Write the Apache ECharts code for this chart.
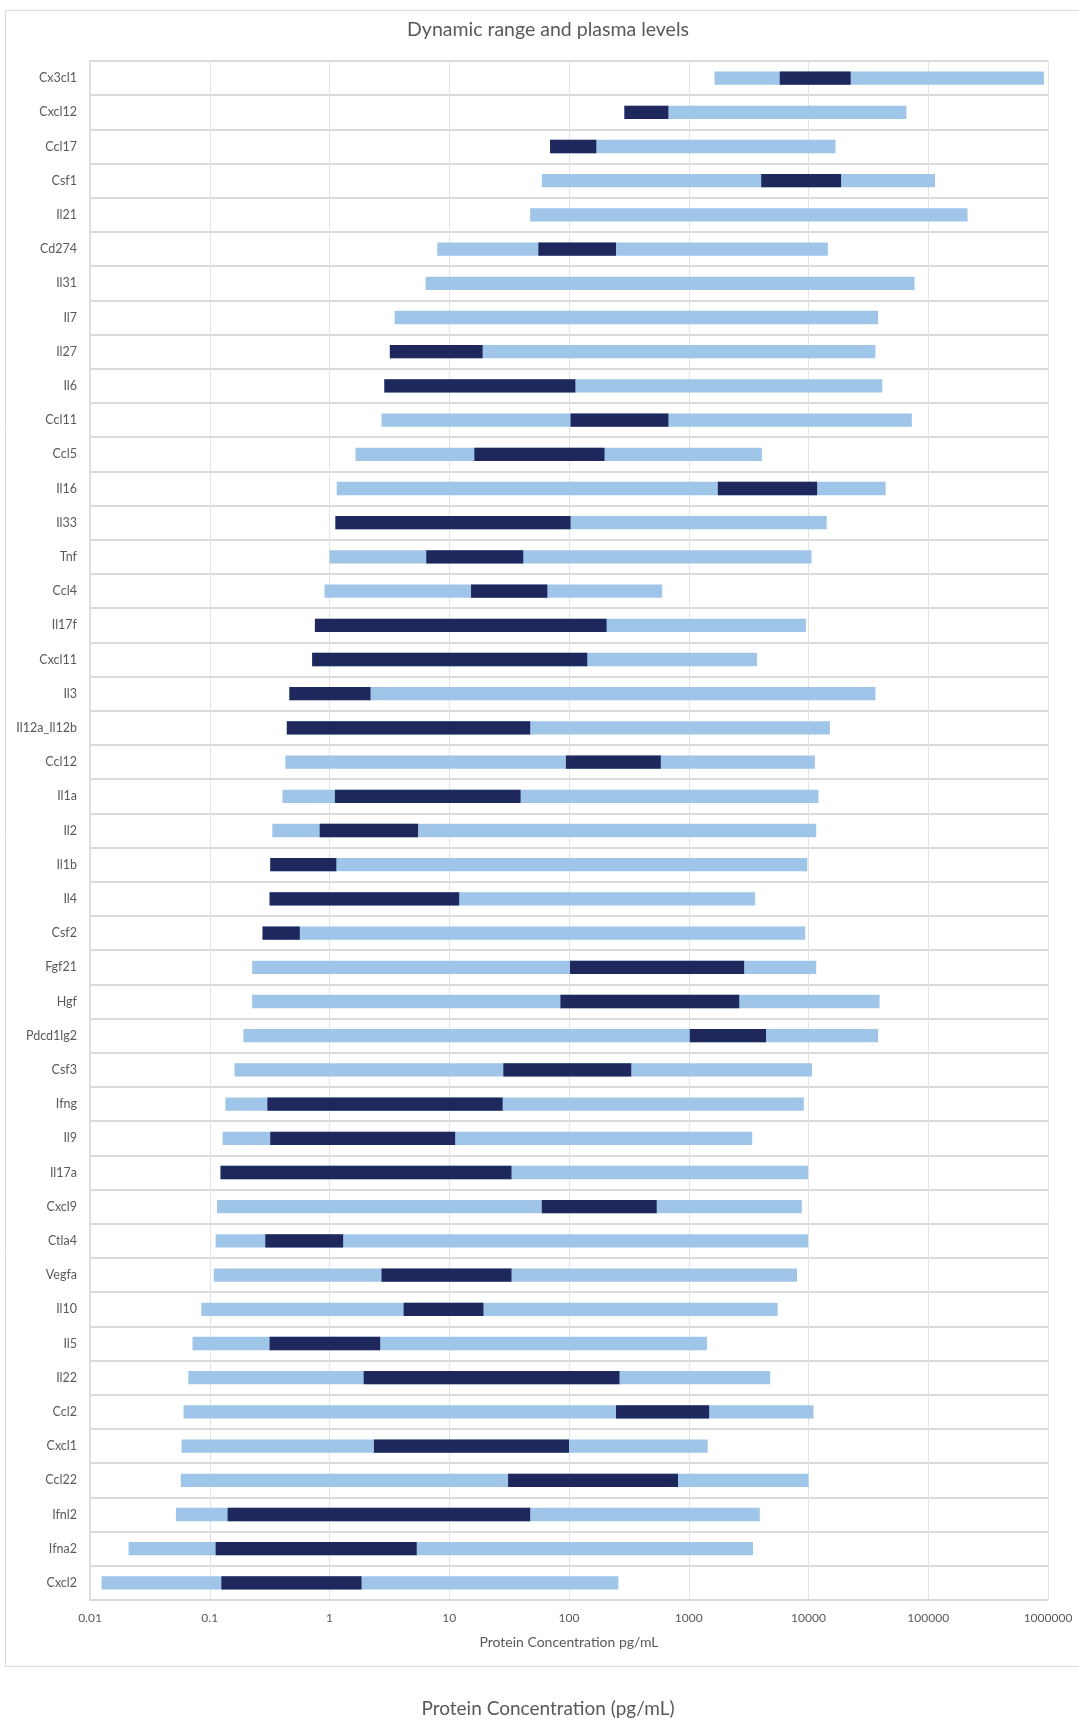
<!DOCTYPE html>
<html>
<head>
<meta charset="utf-8">
<title>Dynamic range and plasma levels</title>
<script src="https://cdn.jsdelivr.net/npm/echarts@6/dist/echarts.min.js"></script>
<style>
  html, body { margin: 0; padding: 0; background: #fff; }
  #chart { width: 1079px; height: 1722px; }
</style>
</head>
<body>
<div id="chart"></div>
<script>
// categories, top to bottom
var proteins = ['Cx3cl1','Cxcl12','Ccl17','Csf1','Il21','Cd274','Il31','Il7','Il27','Il6',
  'Ccl11','Ccl5','Il16','Il33','Tnf','Ccl4','Il17f','Cxcl11','Il3','Il12a_Il12b',
  'Ccl12','Il1a','Il2','Il1b','Il4','Csf2','Fgf21','Hgf','Pdcd1lg2','Csf3',
  'Ifng','Il9','Il17a','Cxcl9','Ctla4','Vegfa','Il10','Il5','Il22','Ccl2',
  'Cxcl1','Ccl22','Ifnl2','Ifna2','Cxcl2'];

// dynamic range (light bars), pg/mL
var rangeLow = [1640, 290, 69.5, 59.3, 47.4, 7.94, 6.35, 3.5, 3.19, 2.87,
  2.72, 1.65, 1.15, 1.12, 1.0, 0.908, 0.755, 0.716, 0.462, 0.44,
  0.428, 0.405, 0.333, 0.32, 0.316, 0.276, 0.226, 0.226, 0.191, 0.161,
  0.135, 0.128, 0.123, 0.115, 0.112, 0.108, 0.0851, 0.0718, 0.0662, 0.0604,
  0.0581, 0.0573, 0.0522, 0.021, 0.0125];
var rangeHigh = [924000, 65600, 16800, 114000, 213000, 14500, 76900, 38100, 36200, 41300,
  72900, 4080, 44100, 14200, 10600, 600, 9510, 3720, 36200, 15100,
  11300, 12100, 11600, 9770, 3580, 9390, 11600, 39200, 38100, 10700,
  9140, 3390, 9900, 8790, 9900, 8010, 5530, 1420, 4790, 11000,
  1440, 10000, 3920, 3440, 258];

// plasma levels (dark bars), pg/mL
var plasmaLow = [5754, 290, 69.5, 4030, null, 55.5, null, null, 3.19, 2.87,
  103, 16.2, 1750, 1.12, 6.43, 15.2, 0.755, 0.716, 0.462, 0.44,
  94.2, 1.11, 0.828, 0.32, 0.316, 0.276, 102, 84.8, 1020, 28.3,
  0.303, 0.32, 0.123, 59.3, 0.291, 2.72, 4.16, 0.316, 1.93, 247,
  2.35, 31.0, 0.141, 0.112, 0.125];
var plasmaHigh = [22490, 676, 169, 18700, null, 247, null, null, 19.0, 113,
  676, 198, 11800, 103, 41.5, 65.9, 206, 142, 2.2, 47.4,
  584, 39.4, 5.49, 1.14, 12.1, 0.565, 2900, 2640, 4420, 331,
  27.9, 11.2, 33.1, 540, 1.3, 33.1, 19.3, 2.65, 264, 1480,
  100, 813, 47.4, 5.35, 1.85];

var xTickLabels = ['0.01','0.1','1','10','100','1000','10000','100000','1000000'];

var FONT = 'Lato, "Open Sans", sans-serif';
var TEXT = '#595959';

function toItems(lo, hi) {
  var out = [];
  for (var i = 0; i < proteins.length; i++) {
    if (lo[i] != null && hi[i] != null) out.push([lo[i], hi[i], i]);
  }
  return out;
}

function barRenderer(color) {
  return function (params, api) {
    var a = api.coord([api.value(0), api.value(2)]);
    var b = api.coord([api.value(1), api.value(2)]);
    var h = api.size([0, 1])[1] * 0.39;
    return {
      type: 'rect',
      shape: { x: a[0], y: a[1] - h / 2, width: b[0] - a[0], height: h },
      style: { fill: color }
    };
  };
}

var chart = echarts.init(document.getElementById('chart'));

var option = {
  animation: false,
  backgroundColor: '#fff',
  textStyle: { fontFamily: FONT },
  graphic: [
    {
      type: 'rect',
      shape: { x: 5.5, y: 10.5, width: 1080, height: 1656 },
      style: { fill: null, stroke: '#d9d9d9', lineWidth: 1 },
      silent: true
    },
    {
      type: 'text',
      x: 548,
      y: 30,
      style: {
        text: 'Dynamic range and plasma levels', font: '19.5px ' + FONT, fill: TEXT,
        align: 'center', verticalAlign: 'middle'
      }
    },
    {
      type: 'text',
      x: 548,
      y: 1709,
      style: {
        text: 'Protein Concentration (pg/mL)', font: '19px ' + FONT, fill: TEXT,
        align: 'center', verticalAlign: 'middle'
      }
    }
  ],
  grid: { left: 90, right: 31, top: 61, bottom: 122 },
  xAxis: {
    type: 'log',
    logBase: 10,
    min: 0.01,
    max: 1000000,
    name: 'Protein Concentration pg/mL',
    nameLocation: 'middle',
    nameGap: 35,
    nameTextStyle: { fontFamily: FONT, fontSize: 14, color: TEXT },
    axisLine: { show: true, lineStyle: { color: '#d9d9d9', width: 1.5 } },
    axisTick: { show: false },
    axisLabel: {
      color: TEXT, fontFamily: FONT, fontSize: 12, margin: 12,
      formatter: function (v) {
        return xTickLabels[Math.round(Math.log10(v)) + 2];
      }
    },
    splitLine: { show: true, lineStyle: { color: '#e3e3e3', width: 1 } },
    minorSplitLine: { show: false }
  },
  yAxis: {
    type: 'category',
    data: proteins,
    inverse: true,
    axisLine: { show: true, lineStyle: { color: '#d9d9d9', width: 1.5 } },
    axisTick: { show: false },
    axisLabel: { color: TEXT, fontFamily: FONT, fontSize: 12.5, margin: 13, interval: 0 },
    splitLine: { show: true, lineStyle: { color: '#dadada', width: 2 } }
  },
  series: [
    {
      name: 'Dynamic range',
      type: 'custom',
      renderItem: barRenderer('#9fc5e8'),
      encode: { x: [0, 1], y: 2 },
      data: toItems(rangeLow, rangeHigh),
      z: 2
    },
    {
      name: 'Plasma levels',
      type: 'custom',
      renderItem: barRenderer('#1f285c'),
      encode: { x: [0, 1], y: 2 },
      data: toItems(plasmaLow, plasmaHigh),
      z: 3
    }
  ]
};

chart.setOption(option);
</script>
</body>
</html>
